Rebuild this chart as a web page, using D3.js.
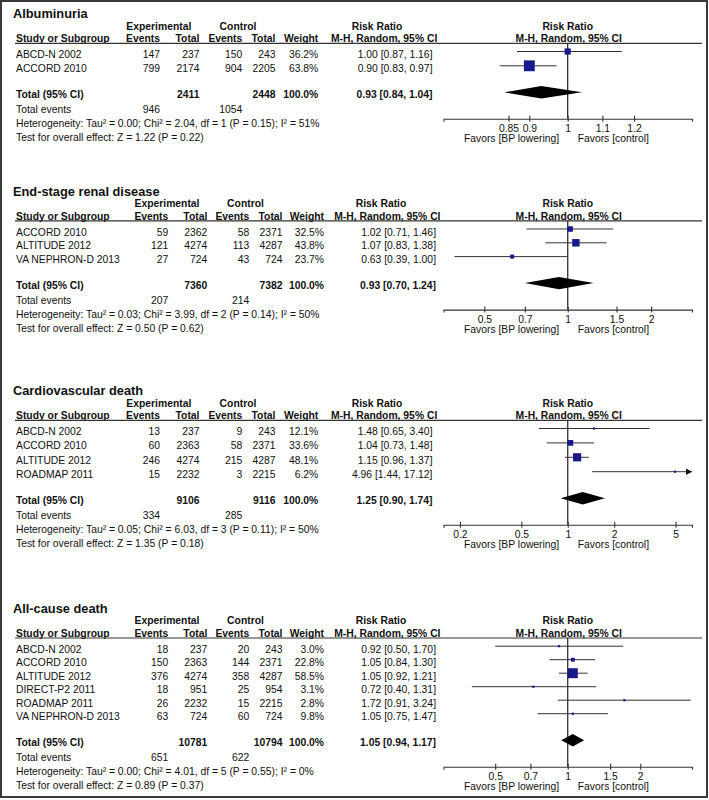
<!DOCTYPE html>
<html><head><meta charset="utf-8">
<script src="https://cdn.jsdelivr.net/npm/d3@7"></script>
<style>
body{margin:0;background:#fff}
svg{display:block}
text{font-family:"Liberation Sans",Arial,sans-serif;fill:#111}
</style>
</head><body><div id="chart"></div>
<script>
// ---------- DATA ----------
const panelTitles = ["Albuminuria", "End-stage renal disease", "Cardiovascular death", "All-cause death"];
// study, exp events, exp total, ctrl events, ctrl total, weight %, RR, lower, upper
const albuminuriaRows = [
  ["ABCD-N 2002", 147, 237, 150, 243, 36.2, 1.00, 0.87, 1.16],
  ["ACCORD 2010", 799, 2174, 904, 2205, 63.8, 0.90, 0.83, 0.97]
];
const esrdRows = [
  ["ACCORD 2010", 59, 2362, 58, 2371, 32.5, 1.02, 0.71, 1.46],
  ["ALTITUDE 2012", 121, 4274, 113, 4287, 43.8, 1.07, 0.83, 1.38],
  ["VA NEPHRON-D 2013", 27, 724, 43, 724, 23.7, 0.63, 0.39, 1.00]
];
const cvDeathRows = [
  ["ABCD-N 2002", 13, 237, 9, 243, 12.1, 1.48, 0.65, 3.40],
  ["ACCORD 2010", 60, 2363, 58, 2371, 33.6, 1.04, 0.73, 1.48],
  ["ALTITUDE 2012", 246, 4274, 215, 4287, 48.1, 1.15, 0.96, 1.37],
  ["ROADMAP 2011", 15, 2232, 3, 2215, 6.2, 4.96, 1.44, 17.12]
];
const allDeathRows = [
  ["ABCD-N 2002", 18, 237, 20, 243, 3.0, 0.92, 0.50, 1.70],
  ["ACCORD 2010", 150, 2363, 144, 2371, 22.8, 1.05, 0.84, 1.30],
  ["ALTITUDE 2012", 376, 4274, 358, 4287, 58.5, 1.05, 0.92, 1.21],
  ["DIRECT-P2 2011", 18, 951, 25, 954, 3.1, 0.72, 0.40, 1.31],
  ["ROADMAP 2011", 26, 2232, 15, 2215, 2.8, 1.72, 0.91, 3.24],
  ["VA NEPHRON-D 2013", 63, 724, 60, 724, 9.8, 1.05, 0.75, 1.47]
];
// exp total, ctrl total, exp events, ctrl events, RR, lower, upper
const totalRows = [
  [2411, 2448, 946, 1054, 0.93, 0.84, 1.04],
  [7360, 7382, 207, 214, 0.93, 0.70, 1.24],
  [9106, 9116, 334, 285, 1.25, 0.90, 1.74],
  [10781, 10794, 651, 622, 1.05, 0.94, 1.17]
];
const heterogeneity = [
  "Heterogeneity: Tau² = 0.00; Chi² = 2.04, df = 1 (P = 0.15); I² = 51%",
  "Heterogeneity: Tau² = 0.03; Chi² = 3.99, df = 2 (P = 0.14); I² = 50%",
  "Heterogeneity: Tau² = 0.05; Chi² = 6.03, df = 3 (P = 0.11); I² = 50%",
  "Heterogeneity: Tau² = 0.00; Chi² = 4.01, df = 5 (P = 0.55); I² = 0%"
];
const overallTest = [
  "Test for overall effect: Z = 1.22 (P = 0.22)",
  "Test for overall effect: Z = 0.50 (P = 0.62)",
  "Test for overall effect: Z = 1.35 (P = 0.18)",
  "Test for overall effect: Z = 0.89 (P = 0.37)"
];
const axisTicks = [
  [0.85, 0.9, 1, 1.1, 1.2],
  [0.5, 0.7, 1, 1.5, 2],
  [0.2, 0.5, 1, 2, 5],
  [0.5, 0.7, 1, 1.5, 2]
];
const axisDomains = [[0.711, 1.407], [0.356, 2.809], [0.1565, 6.389], [0.305, 3.28]];
const favorsLabels = ["Favors [BP lowering]", "Favors [control]"];

const studyRows = [albuminuriaRows, esrdRows, cvDeathRows, allDeathRows];

// ---------- LAYOUT ----------
const W = 709, H = 800;
const panelTop = [18, 195.5, 395, 612.7];
const rowStep = [14.3, 13.8, 14.4, 13.5];
const colsA = {name:16, ev1:160, tot1:199.5, ev2:242.3, tot2:275.5, wt:318.3, rr:432.5, mh:437.3, rrHead:377, exp:158.8, ctrl:238};
const colsB = {name:16, ev1:168.3, tot1:207.3, ev2:249.3, tot2:282.5, wt:324, rr:436, mh:440.5, rrHead:381, exp:167, ctrl:245.5};
const panelCols = [colsA, colsB, colsA, colsB];
const plotRange = [443.5, 692];
const FS = 10.35;
const ink = "#333";

const f2 = d3.format(".2f"), f1 = d3.format(".1f");
const ciText = (r, l, u) => `${f2(r)} [${f2(l)}, ${f2(u)}]`;
const boxSize = d3.scaleLinear().domain([0, 100]).range([0, 17]);

const svg = d3.select("#chart").append("svg").attr("width", W).attr("height", H);
svg.append("rect").attr("width", W).attr("height", H).attr("fill", "#fff");
svg.append("rect").attr("x", 1).attr("y", 1).attr("width", 706).attr("height", 796)
  .attr("fill", "none").attr("stroke", "#3a3a3a").attr("stroke-width", 2);

function txt(g, x, y, s, opt = {}) {
  return g.append("text").attr("x", x).attr("y", y)
    .attr("text-anchor", opt.anchor || "start")
    .attr("font-size", opt.size || FS)
    .attr("font-weight", opt.bold ? "bold" : "normal")
    .text(s);
}

studyRows.forEach((rows, p) => {
  const g = svg.append("g");
  const T = panelTop[p], step = rowStep[p], c = panelCols[p];
  const x = d3.scaleLog().domain(axisDomains[p]).range(plotRange);
  const x1 = x(1);

  txt(g, 13, T, panelTitles[p], {bold:true, size:12.8});
  txt(g, c.exp, T + 11.5, "Experimental", {bold:true, anchor:"middle"});
  txt(g, c.ctrl, T + 11.5, "Control", {bold:true, anchor:"middle"});
  txt(g, c.rrHead, T + 11.5, "Risk Ratio", {bold:true, anchor:"middle"});
  txt(g, x1, T + 11.5, "Risk Ratio", {bold:true, anchor:"middle"});

  const hy = T + 24.3;
  txt(g, c.name, hy, "Study or Subgroup", {bold:true});
  txt(g, c.ev1, hy, "Events", {bold:true, anchor:"end"});
  txt(g, c.tot1, hy, "Total", {bold:true, anchor:"end"});
  txt(g, c.ev2, hy, "Events", {bold:true, anchor:"end"});
  txt(g, c.tot2, hy, "Total", {bold:true, anchor:"end"});
  txt(g, c.wt, hy, "Weight", {bold:true, anchor:"end"});
  txt(g, c.mh, hy, "M-H, Random, 95% CI", {bold:true, anchor:"end"});
  txt(g, x1 + 1, hy, "M-H, Random, 95% CI", {bold:true, anchor:"middle"});

  const ly = T + 25.3;
  g.append("line").attr("x1", 15).attr("x2", 702).attr("y1", ly).attr("y2", ly)
    .attr("stroke", ink).attr("stroke-width", 1.2);

  const rowY = i => T + 40 + i * step;
  rows.forEach((r, i) => {
    const y = rowY(i);
    txt(g, c.name, y, r[0]);
    txt(g, c.ev1, y, r[1], {anchor:"end"});
    txt(g, c.tot1, y, r[2], {anchor:"end"});
    txt(g, c.ev2, y, r[3], {anchor:"end"});
    txt(g, c.tot2, y, r[4], {anchor:"end"});
    txt(g, c.wt, y, f1(r[5]) + "%", {anchor:"end"});
    txt(g, c.rr, y, ciText(r[6], r[7], r[8]), {anchor:"end"});
  });

  const tot = totalRows[p];
  const ty = rowY(rows.length - 1) + 26;
  txt(g, c.name, ty, "Total (95% CI)", {bold:true});
  txt(g, c.tot1, ty, tot[0], {bold:true, anchor:"end"});
  txt(g, c.tot2, ty, tot[1], {bold:true, anchor:"end"});
  txt(g, c.wt, ty, "100.0%", {bold:true, anchor:"end"});
  txt(g, c.rr, ty, ciText(tot[4], tot[5], tot[6]), {bold:true, anchor:"end"});
  const ey = ty + 15;
  txt(g, c.name, ey, "Total events");
  txt(g, c.ev1, ey, tot[2], {anchor:"end"});
  txt(g, c.ev2, ey, tot[3], {anchor:"end"});
  txt(g, c.name, ey + 13.7, heterogeneity[p]);
  txt(g, c.name, ey + 27.7, overallTest[p]);

  // axis
  const ay = ty + 20.5;
  g.append("line").attr("x1", x1).attr("x2", x1).attr("y1", ly).attr("y2", ay)
    .attr("stroke", "#222").attr("stroke-width", 1.2);
  const ax = g.append("g").attr("transform", `translate(0,${ay})`)
    .call(d3.axisBottom(x).tickValues(axisTicks[p]).tickFormat(d3.format("~g")).tickSizeOuter(0).tickSize(3));
  ax.select(".domain").attr("stroke", ink).attr("stroke-width", 1.1);
  ax.selectAll(".tick line").attr("y1", -3).attr("y2", 3).attr("stroke", ink).attr("stroke-width", 1.1);
  ax.selectAll(".tick text").attr("y", 13.5).attr("dy", null)
    .attr("font-size", FS).attr("font-family", "Liberation Sans, Arial, sans-serif").attr("fill", "#111");
  txt(g, x1 - 8.5, ay + 23.5, favorsLabels[0], {anchor:"end"});
  txt(g, x1 + 10, ay + 23.5, favorsLabels[1]);

  // study CIs and boxes
  const [d0, d1] = axisDomains[p];
  rows.forEach((r, i) => {
    const cy = rowY(i) - 6.5;
    const lo = Math.max(r[7], d0), hi = Math.min(r[8], d1);
    g.append("line").attr("x1", x(lo)).attr("x2", x(hi)).attr("y1", cy).attr("y2", cy)
      .attr("stroke", ink).attr("stroke-width", 1);
    if (r[8] > d1) {
      const xe = x(d1);
      g.append("path").attr("d", `M${xe},${cy}L${xe-6},${cy-3.2}L${xe-6},${cy+3.2}Z`).attr("fill", "#111");
    }
    if (r[7] < d0) {
      const xs = x(d0);
      g.append("path").attr("d", `M${xs},${cy}L${xs+6},${cy-3.2}L${xs+6},${cy+3.2}Z`).attr("fill", "#111");
    }
    const s = Math.max(2.2, boxSize(r[5]));
    g.append("rect").attr("x", x(r[6]) - s / 2).attr("y", cy - s / 2)
      .attr("width", s).attr("height", s).attr("fill", "#18188a");
  });

  // diamond
  const dy = ty - 6;
  g.append("path")
    .attr("d", `M${x(tot[5])},${dy}L${x(tot[4])},${dy-6.2}L${x(tot[6])},${dy}L${x(tot[4])},${dy+6.2}Z`)
    .attr("fill", "#000");
});
</script>
</body></html>
